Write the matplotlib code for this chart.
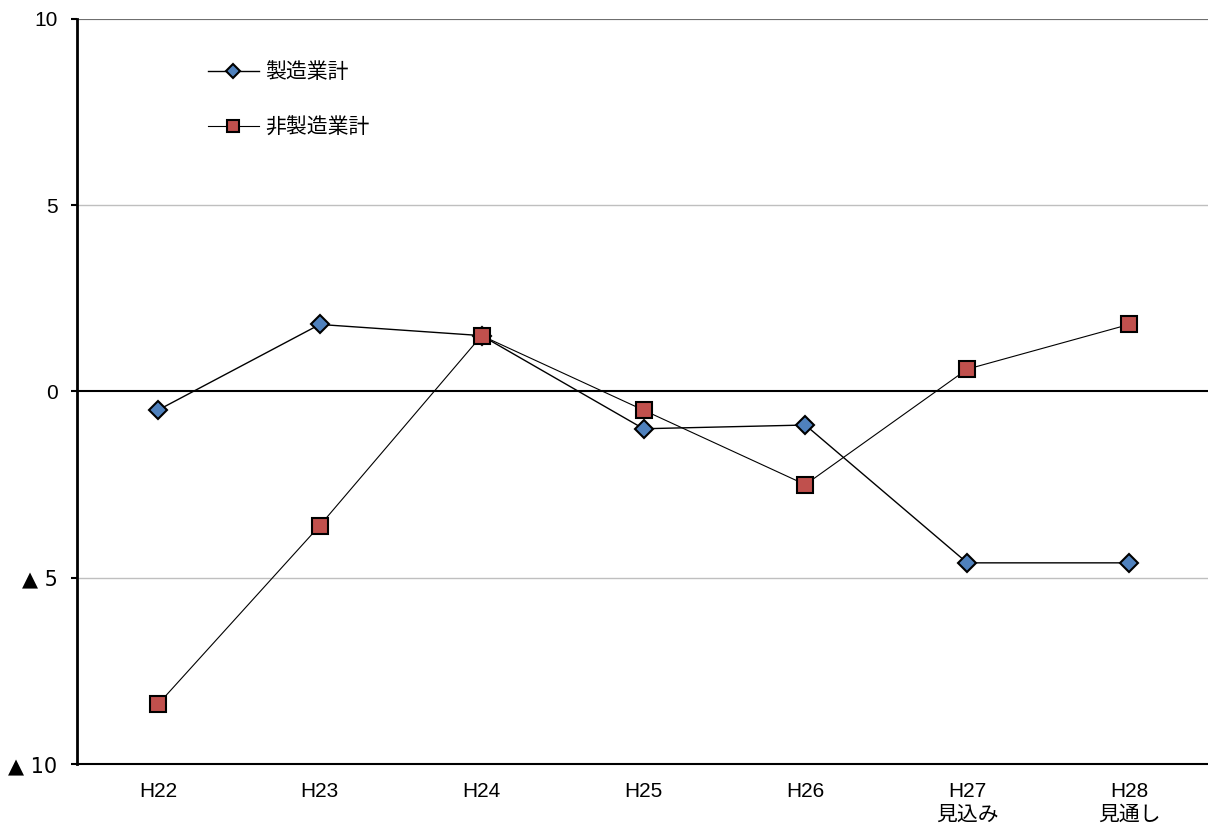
import matplotlib
matplotlib.use('Agg')
import matplotlib.pyplot as plt

plt.rcParams['font.family'] = ['Liberation Sans', 'Noto Sans CJK JP', 'DejaVu Sans']

# fiscal years and survey values
categories = ['H22', 'H23', 'H24', 'H25', 'H26', 'H27\n見込み', 'H28\n見通し']
manufacturing = [-0.5, 1.8, 1.5, -1.0, -0.9, -4.6, -4.6]
non_manufacturing = [-8.4, -3.6, 1.5, -0.5, -2.5, 0.6, 1.8]
yticks = [10, 5, 0, -5, -10]
ytick_labels = ['10', '5', '0', '▲ 5', '▲ 10']

fig = plt.figure(figsize=(12.08, 8.30), dpi=100)
ax = fig.add_axes([77/1208, 1 - 764/830, 1133/1208, 745/830])

x = range(len(categories))
ax.plot(x, manufacturing, color='black', linewidth=1.0, marker='D', markersize=9,
        markerfacecolor='#4F81BD', markeredgecolor='black', markeredgewidth=1.5,
        label='製造業計')
ax.plot(x, non_manufacturing, color='black', linewidth=0.8, marker='s', markersize=11,
        markerfacecolor='#C0504D', markeredgecolor='black', markeredgewidth=1.5,
        label='非製造業計')

ax.set_xlim(-0.5, len(categories) - 0.5)
ax.set_ylim(-10, 10)
ax.set_yticks(yticks)
ax.set_yticklabels(ytick_labels, fontsize=15)
for lbl in ax.get_yticklabels():
    if '▲' in lbl.get_text():
        lbl.set_fontfamily(['DejaVu Sans'])
ax.set_xticks(list(x))
ax.set_xticklabels(categories, fontsize=15, linespacing=1.3)
ax.tick_params(axis='x', length=0, pad=13)
ax.tick_params(axis='y', length=4, width=1.5, direction='out', pad=10)

# grid and zero line
for v in [10, 5, -5]:
    ax.axhline(v, color='#BFBFBF', linewidth=1.0, zorder=0)
ax.axhline(10, color='#606060', linewidth=1.2, zorder=0)
ax.axhline(0, color='black', linewidth=1.5, zorder=1)

for side in ['top', 'right']:
    ax.spines[side].set_visible(False)
ax.spines['left'].set_linewidth(2.0)
ax.spines['bottom'].set_linewidth(1.5)

ax.legend(loc='upper left', bbox_to_anchor=(0.099, 0.967), frameon=False, fontsize=15,
          labelspacing=1.7, handlelength=2.45, handletextpad=0.3, markerscale=0.75)

fig.savefig('out.png', dpi=100)
